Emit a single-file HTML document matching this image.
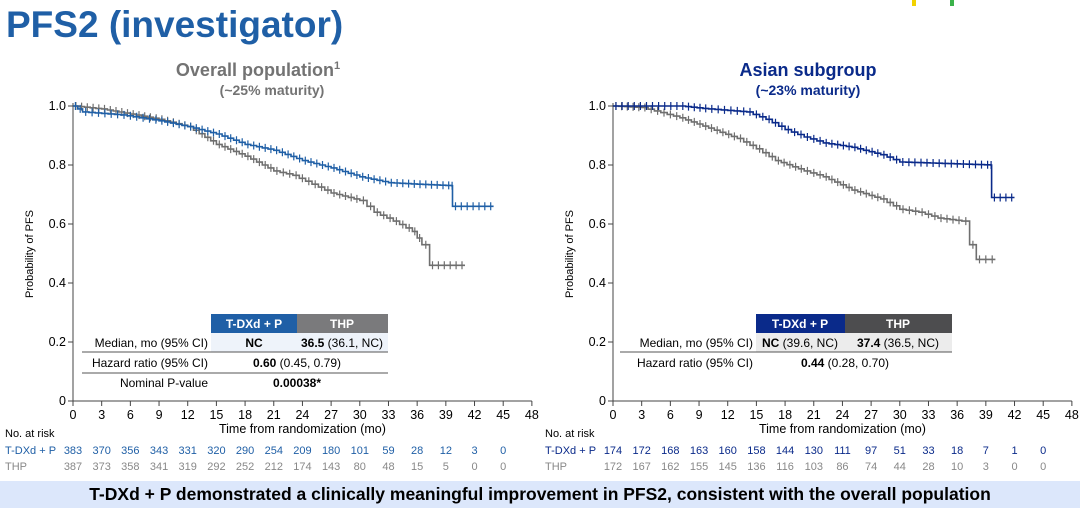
<!DOCTYPE html>
<html><head><meta charset="utf-8"><style>
body{margin:0;width:1080px;height:508px;background:#fff;overflow:hidden;font-family:"Liberation Sans",Arial,sans-serif;position:relative}
svg{position:absolute;left:0;top:0}
</style></head><body>
<svg id="s" width="1080" height="508" xmlns="http://www.w3.org/2000/svg" font-family="Liberation Sans, Arial, sans-serif">
<text x="6" y="37" font-size="37" font-weight="bold" fill="#1f5fa6">PFS2 (investigator)</text>
<rect x="912" y="0" width="4" height="6" fill="#f2d200"/><rect x="950" y="0" width="4" height="6" fill="#3bb24a"/>
<text x="258" y="76" font-size="18" font-weight="bold" fill="#737373" text-anchor="middle">Overall population<tspan font-size="11" dy="-7">1</tspan></text>
<text x="272" y="95" font-size="14" font-weight="bold" fill="#737373" text-anchor="middle">(~25% maturity)</text>
<text x="808" y="76" font-size="18" font-weight="bold" fill="#0a2a8a" text-anchor="middle">Asian subgroup</text>
<text x="808" y="95" font-size="14" font-weight="bold" fill="#0a2a8a" text-anchor="middle">(~23% maturity)</text>
<g id="g"></g>
<rect x="0" y="481" width="1080" height="27" fill="#dce7fb"/>
<text x="540" y="500" font-size="17.5" font-weight="bold" fill="#000" text-anchor="middle">T-DXd + P demonstrated a clinically meaningful improvement in PFS2, consistent with the overall population</text>
</svg>
<script>
const g=document.getElementById('g');let h='';
function Y(v){return 401-v*295}
function plot(x0,opt){
 const sx=m=>x0+m*9.56;
 h+=`<line x1="${x0}" y1="103" x2="${x0}" y2="401" stroke="#444"/>`;
 h+=`<line x1="${x0}" y1="401" x2="${sx(48)}" y2="401" stroke="#444"/>`;
 for(let i=0;i<=5;i++){const v=i*0.2,y=Y(v);h+=`<line x1="${x0-5}" y1="${y}" x2="${x0}" y2="${y}" stroke="#444"/><text x="${x0-7}" y="${y+4}" font-size="12.5" text-anchor="end">${i==0?'0':v.toFixed(1)}</text>`;}
 for(let m=0;m<=48;m+=3){const x=sx(m);h+=`<line x1="${x}" y1="401" x2="${x}" y2="406" stroke="#444"/><text x="${x}" y="419" font-size="12.5" text-anchor="middle">${m}</text>`;}
 h+=`<text x="${sx(24)}" y="433" font-size="12.5" text-anchor="middle">Time from randomization (mo)</text>`;
 h+=`<text transform="translate(${x0-40},254) rotate(-90)" font-size="11" text-anchor="middle">Probability of PFS</text>`;
 h+=`<text x="${x0-68}" y="437" font-size="11">No. at risk</text>`;
 h+=`<text x="${x0-68}" y="454" font-size="11" fill="${opt.c1}">T-DXd + P</text><text x="${x0-68}" y="470" font-size="11" fill="#888">THP</text>`;
 opt.r1.forEach((n,i)=>h+=`<text x="${sx(i*3)}" y="454" font-size="11" fill="${opt.c1}" text-anchor="middle">${n}</text>`);
 opt.r2.forEach((n,i)=>h+=`<text x="${sx(i*3)}" y="470" font-size="11" fill="#888" text-anchor="middle">${n}</text>`);
 [[opt.k2,'#6f6f6f'],[opt.k1,opt.c1]].forEach(([k,c])=>{
  let d=`M${x0},${Y(1)}`,cens='';let pv=1;
  for(let j=1;j<k.length;j++){const [m0,v0]=k[j-1],[m1,v1]=k[j];
   const n=Math.max(1,Math.round((m1-m0)*1.6));
   for(let s=1;s<=n;s++){const m=m0+(m1-m0)*s/n;let v=v0+(v1-v0)*s/n;
    const x=sx(m);d+=`H${x.toFixed(1)}V${Y(v).toFixed(1)}`;
    const xc=sx(m-(m1-m0)/n/2);cens+=`M${xc.toFixed(1)},${(Y(pv)-4).toFixed(1)}v8`;pv=v;}
  }
  h+=`<path d="${d}" fill="none" stroke="${c}" stroke-width="1.6"/><path d="${cens}" stroke="${c}" stroke-width="1.2"/>`;
 });
 h+=opt.tbl;
}
const tL=`<rect x="211" y="314" width="86" height="19" fill="#1f5fa6"/><rect x="297" y="314" width="91" height="19" fill="#7a7a7c"/>
<text x="254" y="328" font-size="12" font-weight="bold" fill="#fff" text-anchor="middle">T-DXd + P</text><text x="342" y="328" font-size="12" font-weight="bold" fill="#fff" text-anchor="middle">THP</text>
<rect x="211" y="333" width="177" height="19" fill="#eef3fa"/>
<text x="208" y="347" font-size="12" text-anchor="end">Median, mo (95% CI)</text><text x="254" y="347" font-size="12" font-weight="bold" text-anchor="middle">NC</text>
<text x="342" y="347" font-size="12" text-anchor="middle"><tspan font-weight="bold">36.5</tspan> (36.1, NC)</text>
<line x1="82" y1="352" x2="388" y2="352" stroke="#555"/><line x1="82" y1="373" x2="388" y2="373" stroke="#555"/>
<text x="208" y="367" font-size="12" text-anchor="end">Hazard ratio (95% CI)</text><text x="297" y="367" font-size="12" text-anchor="middle"><tspan font-weight="bold">0.60</tspan> (0.45, 0.79)</text>
<text x="208" y="387" font-size="12" text-anchor="end">Nominal P-value</text><text x="297" y="387" font-size="12" font-weight="bold" text-anchor="middle">0.00038*</text>`;
const tR=`<rect x="756" y="314" width="89" height="19" fill="#0a2a8a"/><rect x="845" y="314" width="107" height="19" fill="#4d4d4f"/>
<text x="800" y="328" font-size="12" font-weight="bold" fill="#fff" text-anchor="middle">T-DXd + P</text><text x="898" y="328" font-size="12" font-weight="bold" fill="#fff" text-anchor="middle">THP</text>
<rect x="756" y="333" width="196" height="19" fill="#ececec"/>
<text x="753" y="347" font-size="12" text-anchor="end">Median, mo (95% CI)</text><text x="800" y="347" font-size="12" text-anchor="middle"><tspan font-weight="bold">NC</tspan> (39.6, NC)</text>
<text x="898" y="347" font-size="12" text-anchor="middle"><tspan font-weight="bold">37.4</tspan> (36.5, NC)</text>
<line x1="620" y1="352" x2="952" y2="352" stroke="#555"/>
<text x="753" y="367" font-size="12" text-anchor="end">Hazard ratio (95% CI)</text><text x="845" y="367" font-size="12" text-anchor="middle"><tspan font-weight="bold">0.44</tspan> (0.28, 0.70)</text>`;
plot(73,{c1:'#1f5fa6',
 k1:[[0,1],[1,0.98],[5,0.97],[9,0.95],[12,0.93],[15,0.905],[18,0.87],[21,0.85],[24,0.815],[27,0.79],[30,0.76],[33,0.74],[36,0.735],[39.6,0.73],[39.7,0.66],[44,0.66]],
 k2:[[0,1],[3,0.99],[9,0.955],[12,0.93],[15,0.87],[18,0.83],[21,0.78],[23,0.765],[27,0.705],[30,0.68],[31.5,0.64],[33.5,0.61],[35.5,0.575],[36.5,0.53],[37.3,0.46],[41,0.46]],
 r1:[383,370,356,343,331,320,290,254,209,180,101,59,28,12,3,0],r2:[387,373,358,341,319,292,252,212,174,143,80,48,15,5,0,0],tbl:tL});
plot(613,{c1:'#0a2a8a',
 k1:[[0,1],[7,1],[10,0.99],[14,0.98],[16,0.955],[18,0.92],[20,0.895],[22,0.875],[25,0.86],[28,0.835],[30,0.81],[39.5,0.8],[39.6,0.69],[42,0.69]],
 k2:[[0,1],[3,0.995],[7,0.96],[10,0.925],[13,0.89],[15,0.855],[17,0.815],[20,0.78],[22,0.76],[25,0.715],[28,0.685],[30,0.65],[32,0.64],[34,0.62],[36.5,0.61],[37.3,0.53],[38,0.48],[40,0.48]],
 r1:[174,172,168,163,160,158,144,130,111,97,51,33,18,7,1,0],r2:[172,167,162,155,145,136,116,103,86,74,44,28,10,3,0,0],tbl:tR});
g.innerHTML=h;
</script>
</body></html>
